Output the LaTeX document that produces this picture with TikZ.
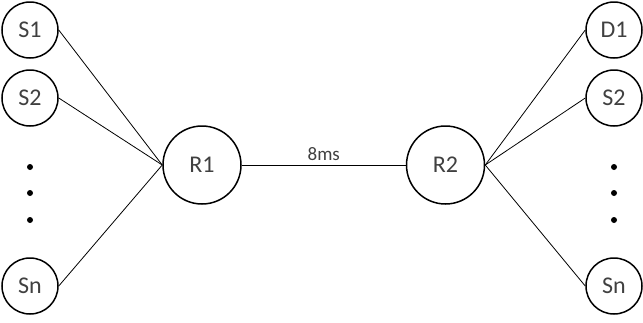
\documentclass[tikz,border=0pt]{standalone}
\usepackage{fontspec}
\setmainfont{Carlito}
\usetikzlibrary{positioning}

\tikzset{
  host/.style={circle, draw, line width=1.5pt, minimum size=56pt, inner sep=0pt, text=black!75, font=\fontsize{24}{28}\selectfont},
  router/.style={circle, draw, line width=1.5pt, minimum size=78pt, inner sep=0pt, text=black!75, font=\fontsize{24}{28}\selectfont},
  link/.style={line width=0.8pt},
  dot/.style={circle, fill, inner sep=0pt, minimum size=6pt}
}

\begin{document}
\begin{tikzpicture}[x=1pt, y=-1pt]

\def\width{643}
\def\height{322}

\path [use as bounding box] (0,0) rectangle (\width,\height);

% ROUTERS
\node [router] (r1) at (202,165) {R1};
\node [router] (r2) at (445.5,165) {R2};

% SOURCES
\node [host] (s1) at (30,30) {S1};
\node [host] (s2) at (30,98) {S2};
\node [host] (sn) at (30,286) {Sn};

% DESTINATIONS
\node [host] (d1) at (614,30) {D1};
\node [host] (d2) at (614,98) {S2};
\node [host] (dn) at (614,286) {Sn};

% DOTS
\foreach \y [count=\i] in {167,193,220} {
  \node [dot] (ls\i) at (30,\y) {};
  \node [dot] (rd\i) at (614,\y) {};
}

% LINKS
\foreach \s in {s1,s2,sn}
  \draw [link] (\s.east) -- (r1.west);
\foreach \d in {d1,d2,dn}
  \draw [link] (r2.east) -- (\d.west);
\draw [link] (r1.east) -- node [above=1pt, text=black!75, font=\fontsize{19}{23}\selectfont] (delay) {8ms} (r2.west);

\end{tikzpicture}
\end{document}
